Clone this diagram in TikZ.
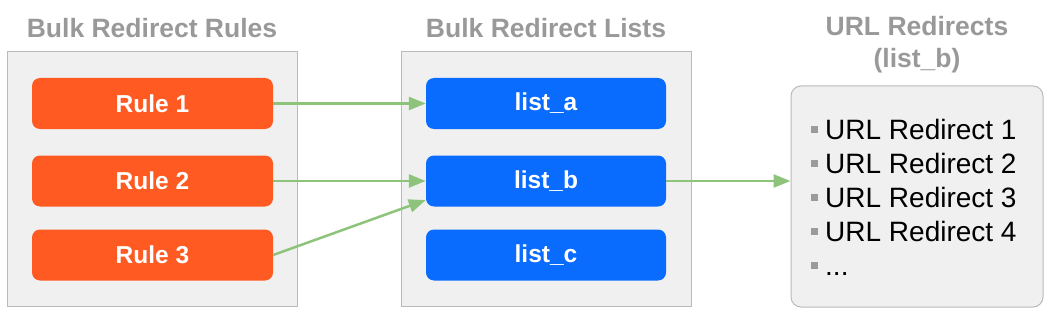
\documentclass[tikz,border=0pt]{standalone}
\usepackage{fontspec}
\setmainfont{Liberation Sans}
\usepackage{xcolor}
\definecolor{bkOrange}{RGB}{255,  90,  34}
\definecolor{bkBlue}  {RGB}{ 10, 108, 255}
\definecolor{bkPanel} {RGB}{240, 240, 240}
\definecolor{bkEdge}  {RGB}{186, 186, 186}
\definecolor{bkTitle} {RGB}{153, 153, 153}
\definecolor{bkGreen} {RGB}{141, 195, 122}
\definecolor{bkBullet}{RGB}{155, 155, 155}
\usepackage{tikz}
\usetikzlibrary{
  arrows.meta,
  positioning,
}
\newcommand{\urlitem}[1]{\textcolor{bkBullet}{\rule[6pt]{7pt}{7pt}}\hspace{7pt}#1}

\begin{document}
\begin{tikzpicture}[
  x=1pt, y=-1pt,
  >={Triangle[length=17pt,width=13pt]},
  panel/.style ={draw=bkEdge, line width=1pt, fill=bkPanel,
                 minimum width=290pt, minimum height=254pt},
  rulebox/.style={rounded corners=8pt, fill=bkOrange, text=white,
                 minimum width=241pt, minimum height=51pt,
                 font=\fontsize{24.5}{28}\selectfont\bfseries},
  listbox/.style={rounded corners=8pt, fill=bkBlue, text=white,
                 minimum width=240pt, minimum height=51pt,
                 font=\fontsize{24.5}{28}\selectfont\bfseries},
  heading/.style={text=bkTitle, align=center,
                 font=\fontsize{26.5}{32}\selectfont\bfseries},
  link/.style  ={->, line width=2.5pt, color=bkGreen},
]
  \useasboundingbox (0,0) rectangle (1051,318);

  % Column headings
  \node[heading] (hrules) at (152, 28) {Bulk Redirect Rules};
  \node[heading] (hlists) at (546, 28) {Bulk Redirect Lists};
  \node[heading] (hurls)  at (917, 45) {URL Redirects\\(list\_b)};

  % Grey panels
  \node[panel] (prules) at (152, 179) {};
  \node[panel] (plists) at (546, 179) {};
  \node[draw=bkEdge, line width=1pt, fill=bkPanel, rounded corners=10pt,
        minimum width=252pt, minimum height=221pt] (purls) at (917, 196.5) {};

  % Rules and lists
  \node[rulebox] (rule1) at (152.5, 103.5) {Rule 1};
  \node[rulebox] (rule2) at (152.5, 181)   {Rule 2};
  \node[rulebox] (rule3) at (152.5, 255)   {Rule 3};
  \node[listbox] (lista) at (546, 103.5)   {list\_a};
  \node[listbox] (listb) at (546, 181)     {list\_b};
  \node[listbox] (listc) at (546, 255)     {list\_c};

  % Redirects held in list_b
  \node[anchor=west, align=left, inner sep=0pt,
        font=\fontsize{28}{34}\selectfont] (urls) at (811, 197)
        {\urlitem{URL Redirect 1}\\ \urlitem{URL Redirect 2}\\
         \urlitem{URL Redirect 3}\\ \urlitem{URL Redirect 4}\\ \urlitem{...}};

  \draw[link] (rule1.east) -- (lista.west);
  \draw[link] (rule2.east) -- (listb.west);
  \draw[link] (rule3.east) -- (listb.189);
  \draw[link] (listb.east) -- (purls.west |- listb.east);

\end{tikzpicture}
\end{document}
